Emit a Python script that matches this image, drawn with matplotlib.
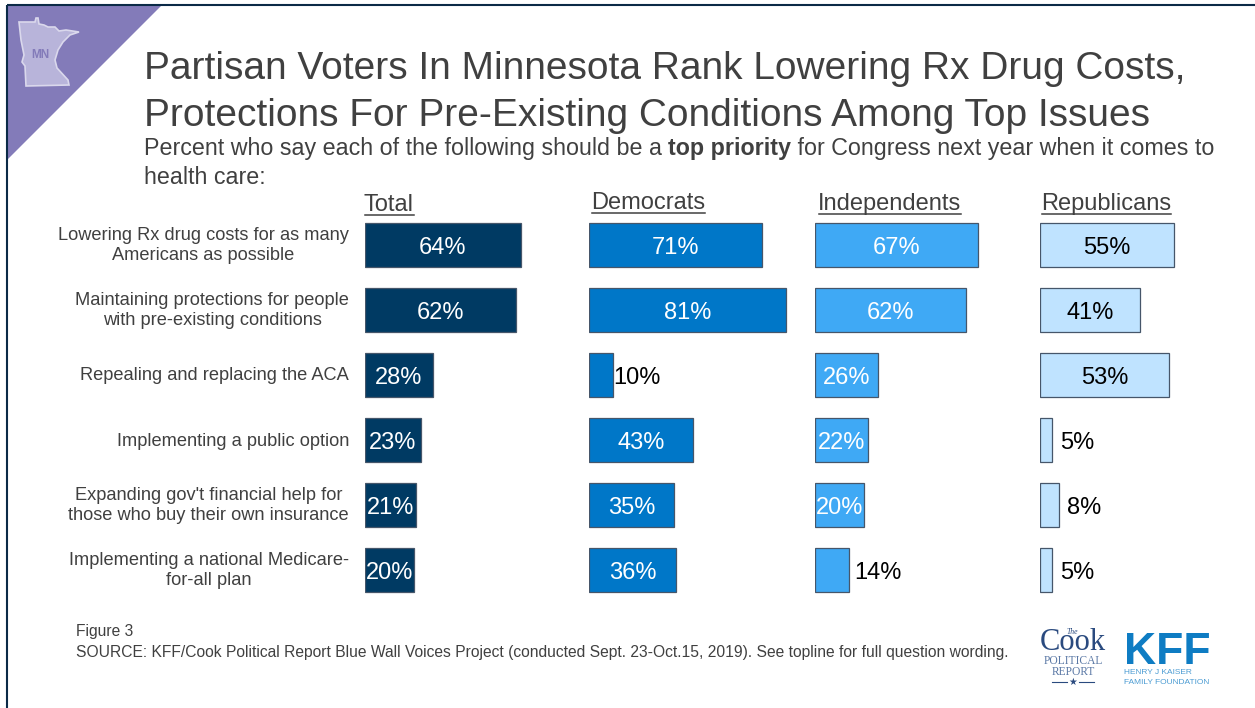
import matplotlib
matplotlib.use("Agg")
import matplotlib.pyplot as plt
from matplotlib.patches import Polygon
from matplotlib import font_manager as fm

plt.rcParams['font.family'] = ['Liberation Sans', 'DejaVu Sans']

W, H = 1255, 708
categories = [
    "Lowering Rx drug costs for as many\nAmericans as possible",
    "Maintaining protections for people\nwith pre-existing conditions",
    "Repealing and replacing the ACA",
    "Implementing a public option",
    "Expanding gov't financial help for\nthose who buy their own insurance",
    "Implementing a national Medicare-\nfor-all plan",
]
groups = ["Total", "Democrats", "Independents", "Republicans"]
total = [64, 62, 28, 23, 21, 20]
democrats = [71, 81, 10, 43, 35, 36]
independents = [67, 62, 26, 22, 20, 14]
republicans = [55, 41, 53, 5, 8, 5]
series = [total, democrats, independents, republicans]
colors = ["#003A63", "#0077C8", "#3FA9F5", "#BFE3FF"]
text_colors = ["white", "white", "white", "black"]
left_px = [365, 589, 815, 1040]
head_px = [(364, 205), (591, 203), (818, 204), (1041, 204)]
under_y = [215, 213, 214, 214]
# gap in px between bar end and a label drawn outside the bar
outside_gap = {(1, 2): 0, (2, 5): 5, (3, 3): 8, (3, 4): 8, (3, 5): 8}

GRAY = "#404040"
fig = plt.figure(figsize=(W / 100, H / 100), dpi=100)
bg = fig.add_axes([0, 0, 1, 1])
bg.set_xlim(0, W); bg.set_ylim(H, 0); bg.axis("off")

# corner banner and frame
bg.add_patch(Polygon([(7, 5), (162, 5), (7, 160)], closed=True, fc="#837BB9", ec="none"))
mn = [(19, 22), (35, 22), (36, 18), (38, 18), (39, 24), (44, 25), (48, 27), (55, 27), (59, 31),
      (66, 30), (79, 32), (70, 35), (63, 42), (58, 50), (55, 60), (57, 68), (68, 80), (69, 85),
      (26, 86), (25, 66), (22, 62), (24, 55), (21, 40)]
bg.add_patch(Polygon(mn, closed=True, fc="#B8B4DA", ec="#DAD8EC", lw=1.2))
bg.text(40.5, 54.5, "MN", fontsize=8.5, fontweight="bold", color="#837BB9", ha="center", va="center")
bg.plot([7, 7], [708, 5], color="#0B2A47", lw=1.5, solid_capstyle="butt")
bg.plot([7, 1255], [5, 5], color="#0B2A47", lw=1.5, solid_capstyle="butt")

# title
bg.text(144, 69, "Partisan Voters In Minnesota Rank Lowering Rx Drug Costs,", fontsize=27.97, color=GRAY, va="center")
bg.text(144, 116, "Protections For Pre-Existing Conditions Among Top Issues", fontsize=27.97, color=GRAY, va="center")

# subtitle with a bold run
fig.canvas.draw()
rend = fig.canvas.get_renderer()
x = 144
for part, weight in [("Percent who say each of the following should be a ", "normal"),
                     ("top priority", "bold"),
                     (" for Congress next year when it comes to", "normal")]:
    t = bg.text(x, 155.5, part, fontsize=16.75, color=GRAY, fontweight=weight, va="baseline")
    x += rend.get_text_width_height_descent(part, t.get_fontproperties(), False)[0]
bg.text(144, 183.5, "health care:", fontsize=16.75, color=GRAY, va="baseline")

# row labels
row_ys = [245.5, 310.5, 376, 441, 505.5, 570.5]
for lab, y in zip(categories, row_ys):
    bg.text(349, y, lab, fontsize=13.13, color=GRAY, ha="right", va="center",
            multialignment="center", linespacing=1.3)

# bar panels
top_px, bot_px = 212.5, 602.5
pw = 243
for i, (vals, name) in enumerate(zip(series, groups)):
    ax = fig.add_axes([left_px[i] / W, 1 - bot_px / H, pw / W, (bot_px - top_px) / H])
    ax.set_xlim(0, 100)
    ax.set_ylim(5.5, -0.5)
    ax.axis("off")
    ax.barh(range(6), vals, height=44 / 65, color=colors[i], edgecolor="#46566A", linewidth=0.9)
    for r, v in enumerate(vals):
        if (i, r) in outside_gap:
            ax.annotate(f"{v}%", (v, r), xytext=(outside_gap[(i, r)] * 0.72, -2), textcoords="offset points",
                        fontsize=17, color="black", ha="left", va="center")
        else:
            ax.annotate(f"{v}%", (v / 2, r), xytext=(0, -2), textcoords="offset points",
                        fontsize=17, color=text_colors[i], ha="center", va="center")
    hx, hy = head_px[i]
    t = bg.text(hx, hy, name, fontsize=17, color=GRAY, ha="left", va="center")
    bb = t.get_window_extent(rend)
    bg.plot([hx + 1, hx + bb.width], [under_y[i], under_y[i]], color=GRAY, lw=1.1)

# footer
bg.text(76, 631.5, "Figure 3", fontsize=11.23, color=GRAY, va="center")
bg.text(76, 652, "SOURCE: KFF/Cook Political Report Blue Wall Voices Project (conducted Sept. 23-Oct.15, 2019). See topline for full question wording.",
        fontsize=11.23, color=GRAY, va="center")

# logos
NAVY = "#2A4A7F"
bg.text(1072.5, 632, "The", fontsize=5.5, family="Liberation Serif", style="italic", color=NAVY, ha="center", va="center")
bg.text(1072.5, 643, "Cook", fontsize=22, family="Liberation Serif", color=NAVY, ha="center", va="center")
bg.text(1073, 661, "POLITICAL", fontsize=8.3, family="Liberation Serif", color="#5A78A5", ha="center", va="center")
bg.text(1073, 672, "REPORT", fontsize=8.3, family="Liberation Serif", color="#5A78A5", ha="center", va="center")
bg.text(1073, 682, "★", fontsize=7, family="DejaVu Sans", color=NAVY, ha="center", va="center")
bg.plot([1052, 1067], [682, 682], color=NAVY, lw=0.8)
bg.plot([1079, 1094], [682, 682], color=NAVY, lw=0.8)
KB = "#0E7CC3"
names = {f.name for f in fm.fontManager.ttflist}
kff_family = "Liberation Sans Narrow" if "Liberation Sans Narrow" in names else "Liberation Sans"
kff_size = 36.5 if kff_family.endswith("Narrow") else 32
bg.text(1167, 664.5, "KFF", fontsize=kff_size, family=kff_family, fontweight="bold", color=KB, ha="center", va="baseline")
bg.text(1124, 673, "HENRY J KAISER", fontsize=6.0, color="#4C9CD3", va="center")
bg.text(1124, 682.5, "FAMILY FOUNDATION", fontsize=6.0, color="#4C9CD3", va="center")

fig.savefig("out.png", dpi=100)
